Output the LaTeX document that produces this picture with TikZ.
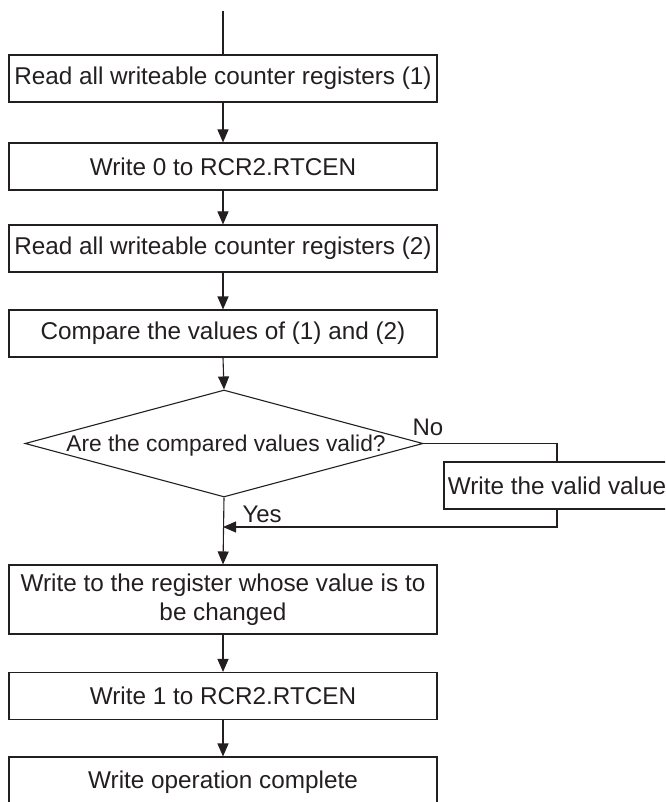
\documentclass[tikz,border=0pt]{standalone}
\usepackage{fontspec}
\setmainfont{Liberation Sans}
\usetikzlibrary{arrows.meta,shapes.geometric}
\definecolor{ink}{HTML}{231F20}
\begin{document}
\begin{tikzpicture}[x=1pt,y=-1pt,
  line width=1.1pt, draw=ink,
  proc/.style={draw=ink, rectangle, minimum width=428pt, minimum height=47pt, inner sep=0pt,
    font=\fontsize{24.3}{29}\selectfont, text=ink},
  arr/.style={-{Triangle[length=13pt,width=11pt]}},
  lbl/.style={font=\fontsize{24}{29}\selectfont, inner sep=0pt, text=ink}]
\useasboundingbox (0,0) rectangle (665,802);
\begin{scope}
\clip (0,0) rectangle (665,802);
\coordinate (start) at (223,11);
\node[proc] (b1) at (223,78.5) {Read all writeable counter registers (1)};
\node[proc] (b2) at (223,166.5) {Write 0 to RCR2.RTCEN};
\node[proc] (b3) at (223,248.5) {Read all writeable counter registers (2)};
\node[proc] (b4) at (223,333.5) {Compare the values of (1) and (2)};
\node[draw=ink, diamond, minimum width=398pt, minimum height=107pt, inner sep=0pt] (dec) at (224,443.5) {};
\node[lbl, font=\fontsize{22.8}{28}\selectfont] (dtext) at (226,446) {Are the compared values valid?};
\node[proc, minimum width=226pt] (valid) at (557,485.5) {Write the valid value};
\node[proc, minimum height=69pt, align=center] (b5) at (223,599.5) {Write to the register whose value is to\\be changed};
\node[proc] (b6) at (223,696) {Write 1 to RCR2.RTCEN};
\node[proc, minimum height=50pt] (b7) at (223,782) {Write operation complete};
\coordinate (ret) at (557,527);
\coordinate (retend) at (223,527);
\node[lbl, anchor=base west] (no) at (412,435) {No};
\node[lbl, anchor=base west] (yes) at (242,522) {Yes};

\draw (start) -- (b1.north);
\draw[arr] (b1.south) -- (b2.north);
\draw[arr] (b2.south) -- (b3.north);
\draw[arr] (b3.south) -- (b4.north);
\draw[arr] (b4.south) -- (dec.north);
\draw (dec.east) -| (valid.north);
\draw[arr] (valid.south) -- (ret) -- (retend);
\draw[arr] (dec.south) -- (b5.north);
\draw[arr] (b5.south) -- (b6.north);
\draw[arr] (b6.south) -- (b7.north);
\end{scope}
\end{tikzpicture}
\end{document}
